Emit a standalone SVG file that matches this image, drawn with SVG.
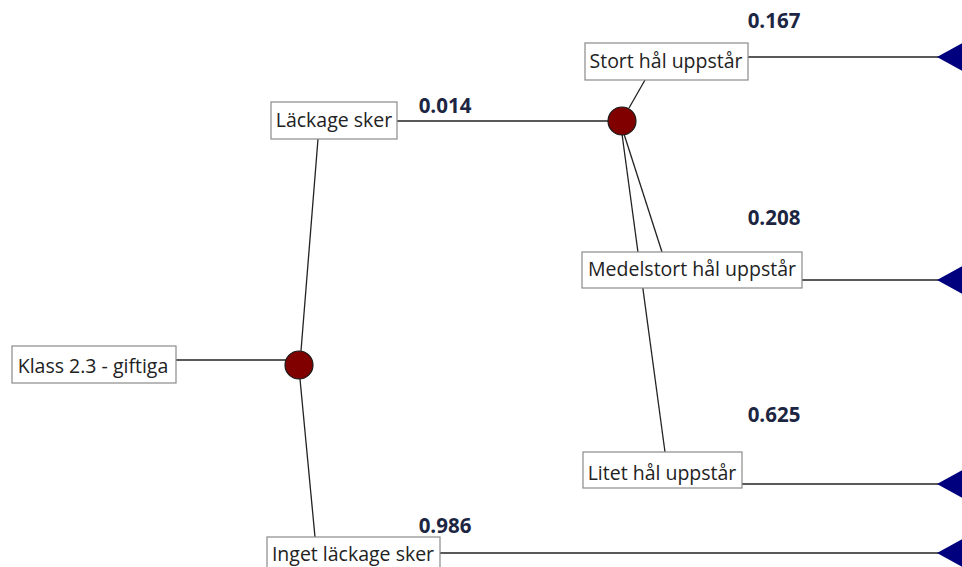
<svg xmlns="http://www.w3.org/2000/svg" width="962" height="567" viewBox="0 0 962 567">
  <style>
    .box { fill: #ffffff; stroke: #8a8a8a; stroke-width: 1.2; }
    .lbl { font-family: "Open Sans", "Noto Sans", sans-serif; font-size: 19.5px; fill: #222222; text-anchor: middle; }
    .prob { font-family: "Open Sans", "Noto Sans", sans-serif; font-size: 20.5px; font-weight: bold; fill: #1c2541; text-anchor: middle; }
    .edge { stroke: #222222; stroke-width: 1.3; fill: none; }
    .chance { fill: #800000; stroke: #1a1a1a; stroke-width: 1.2; }
    .end { fill: #00007f; }
  </style>

  <!-- connectors -->
  <g id="connectors">
    <line class="edge" x1="176" y1="360" x2="286" y2="360"/>
    <line class="edge" x1="301" y1="351" x2="318" y2="139"/>
    <line class="edge" x1="300" y1="379" x2="315" y2="537"/>
    <line class="edge" x1="397" y1="121" x2="608" y2="121"/>
    <line class="edge" x1="629" y1="108" x2="645" y2="80"/>
    <line class="edge" x1="624" y1="134" x2="662" y2="252"/>
    <line class="edge" x1="622" y1="134" x2="665" y2="452"/>
    <line class="edge" x1="748" y1="57" x2="940" y2="57"/>
    <line class="edge" x1="802" y1="280" x2="940" y2="280"/>
    <line class="edge" x1="742" y1="484" x2="940" y2="484"/>
    <line class="edge" x1="440" y1="553" x2="940" y2="553"/>
  </g>

  <!-- probabilities -->
  <g id="probabilities">
    <text class="prob" x="445" y="113">0.014</text>
    <text class="prob" x="445" y="533">0.986</text>
    <text class="prob" x="774" y="28">0.167</text>
    <text class="prob" x="774" y="225">0.208</text>
    <text class="prob" x="774" y="422">0.625</text>
  </g>

  <g id="root">
    <rect class="box" x="12" y="346" width="164" height="37"/>
    <text class="lbl" x="93" y="373">Klass 2.3 - giftiga</text>
  </g>

  <g id="chance-main">
    <circle class="chance" cx="299" cy="365" r="14"/>
  </g>

  <g id="leak">
    <rect class="box" x="271" y="102" width="126" height="37"/>
    <text class="lbl" x="334" y="127">Läckage sker</text>
  </g>

  <g id="no-leak">
    <rect class="box" x="267" y="537" width="173" height="36"/>
    <text class="lbl" x="353" y="561">Inget läckage sker</text>
  </g>

  <g id="chance-leak">
    <circle class="chance" cx="622" cy="121" r="14"/>
  </g>

  <g id="large-hole">
    <rect class="box" x="585" y="43" width="163" height="37"/>
    <text class="lbl" x="666" y="68">Stort hål uppstår</text>
  </g>

  <g id="medium-hole">
    <rect class="box" x="582" y="252" width="220" height="36"/>
    <text class="lbl" x="692" y="276">Medelstort hål uppstår</text>
  </g>

  <g id="small-hole">
    <rect class="box" x="583" y="452" width="159" height="36"/>
    <text class="lbl" x="662" y="480">Litet hål uppstår</text>
  </g>

  <!-- terminal nodes -->
  <g id="end-large"><polygon class="end" points="937,57 966,41 966,73"/></g>
  <g id="end-medium"><polygon class="end" points="937,280 966,264 966,296"/></g>
  <g id="end-small"><polygon class="end" points="937,484 966,468 966,500"/></g>
  <g id="end-noleak"><polygon class="end" points="937,553 966,537 966,569"/></g>
</svg>
